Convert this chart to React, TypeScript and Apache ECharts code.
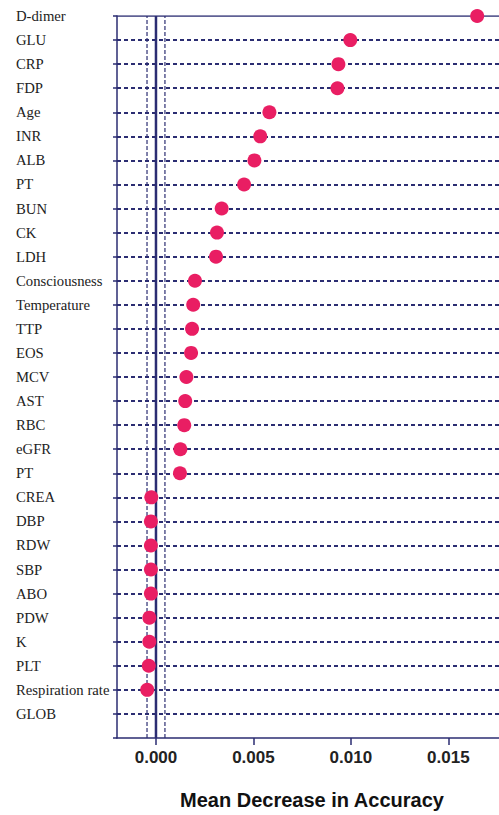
import React, { useEffect, useRef } from "react";
import * as echarts from "echarts";

// Variables from top (highest importance) to bottom
const features = [
  "D-dimer", "GLU", "CRP", "FDP", "Age", "INR", "ALB", "PT", "BUN", "CK",
  "LDH", "Consciousness", "Temperature", "TTP", "EOS", "MCV", "AST", "RBC",
  "eGFR", "PT ", "CREA", "DBP", "RDW", "SBP", "ABO", "PDW", "K", "PLT",
  "Respiration rate", "GLOB",
];

// Mean decrease in accuracy per variable (null: no estimate drawn)
const importance: (number | null)[] = [
  0.01648, 0.00997, 0.00936, 0.00931, 0.00582, 0.00535, 0.00505, 0.00452,
  0.00337, 0.00313, 0.00308, 0.0020, 0.00191, 0.00185, 0.0018, 0.00156,
  0.0015, 0.00145, 0.00125, 0.00123, -0.00024, -0.00026, -0.00026, -0.00026,
  -0.00026, -0.00034, -0.00034, -0.00037, -0.00045, null,
];

const xTicks = [0, 0.005, 0.01, 0.015];
// zero reference and the dashed band around it
const zeroLine = 0;
const bandLines = [-0.00046, 0.00046];

const NAVY = "#2b2d72";

export default function App() {
  const ref = useRef<HTMLDivElement>(null);

  useEffect(() => {
    document.body.style.margin = "0";
    if (!ref.current) return;
    const chart = echarts.init(ref.current, null, { renderer: "svg" });

    // bottom-up category order with an empty slot under the last row
    const cats = ["", ...features.slice().reverse()];
    const bottom = cats[0];
    const top = cats[cats.length - 1];
    const points = features
      .map((f, i) => (importance[i] === null ? null : [importance[i], f]))
      .filter((p) => p !== null);

    const vLine = (x: number, width: number, type: any) => ({
      type: "line",
      data: [[x, bottom], [x, top]],
      symbol: "none",
      silent: true,
      z: 3,
      lineStyle: { color: NAVY, width, type },
    });

    chart.setOption({
      animation: false,
      grid: { left: 117, right: 0, top: 16, bottom: 77 },
      xAxis: {
        type: "value",
        min: -0.002,
        max: 0.0176,
        axisLine: { show: true, onZero: false, lineStyle: { color: NAVY, width: 1.5 } },
        axisTick: {
          show: true,
          customValues: xTicks,
          length: 7,
          lineStyle: { color: NAVY, width: 1.5 },
        },
        axisLabel: {
          customValues: xTicks,
          formatter: (v: number) => v.toFixed(3),
          fontFamily: "Liberation Sans, Arial",
          fontWeight: "bold",
          fontSize: 17,
          color: "#222",
          margin: 11,
        },
        splitLine: { show: false },
        name: "Mean Decrease in Accuracy",
        nameLocation: "middle",
        nameGap: 52,
        nameTextStyle: {
          fontFamily: "Liberation Sans, Arial",
          fontWeight: "bold",
          fontSize: 20,
          color: "#111",
          padding: [0, 0, 0, 8],
        },
      },
      yAxis: {
        type: "category",
        data: cats,
        boundaryGap: false,
        axisLine: { show: true, onZero: false, lineStyle: { color: NAVY, width: 1.5 } },
        axisTick: {
          show: true,
          interval: 0,
          length: 4,
          lineStyle: { color: NAVY, width: 1.5 },
        },
        axisLabel: {
          interval: 0,
          align: "left",
          margin: 101,
          fontFamily: "Liberation Serif, Times New Roman",
          fontSize: 14.7,
          color: "#222",
        },
        splitLine: {
          show: true,
          interval: (i: number) => i > 0 && i < cats.length - 1,
          lineStyle: { color: NAVY, width: 2, type: [4, 3] },
        },
      },
      series: [
        vLine(zeroLine, 2.5, "solid"),
        vLine(bandLines[0], 1.2, [4, 2]),
        vLine(bandLines[1], 1.2, [4, 2]),
        {
          type: "line",
          data: [[-0.002, top], [0.0176, top]],
          symbol: "none",
          silent: true,
          z: 3,
          lineStyle: { color: NAVY, width: 1.5 },
        },
        {
          type: "scatter",
          data: points,
          symbolSize: 14,
          itemStyle: { color: "#e91e63", opacity: 1 },
          z: 5,
        },
      ],
    });

    return () => chart.dispose();
  }, []);

  return <div ref={ref} style={{ width: 499, height: 815 }} />;
}
